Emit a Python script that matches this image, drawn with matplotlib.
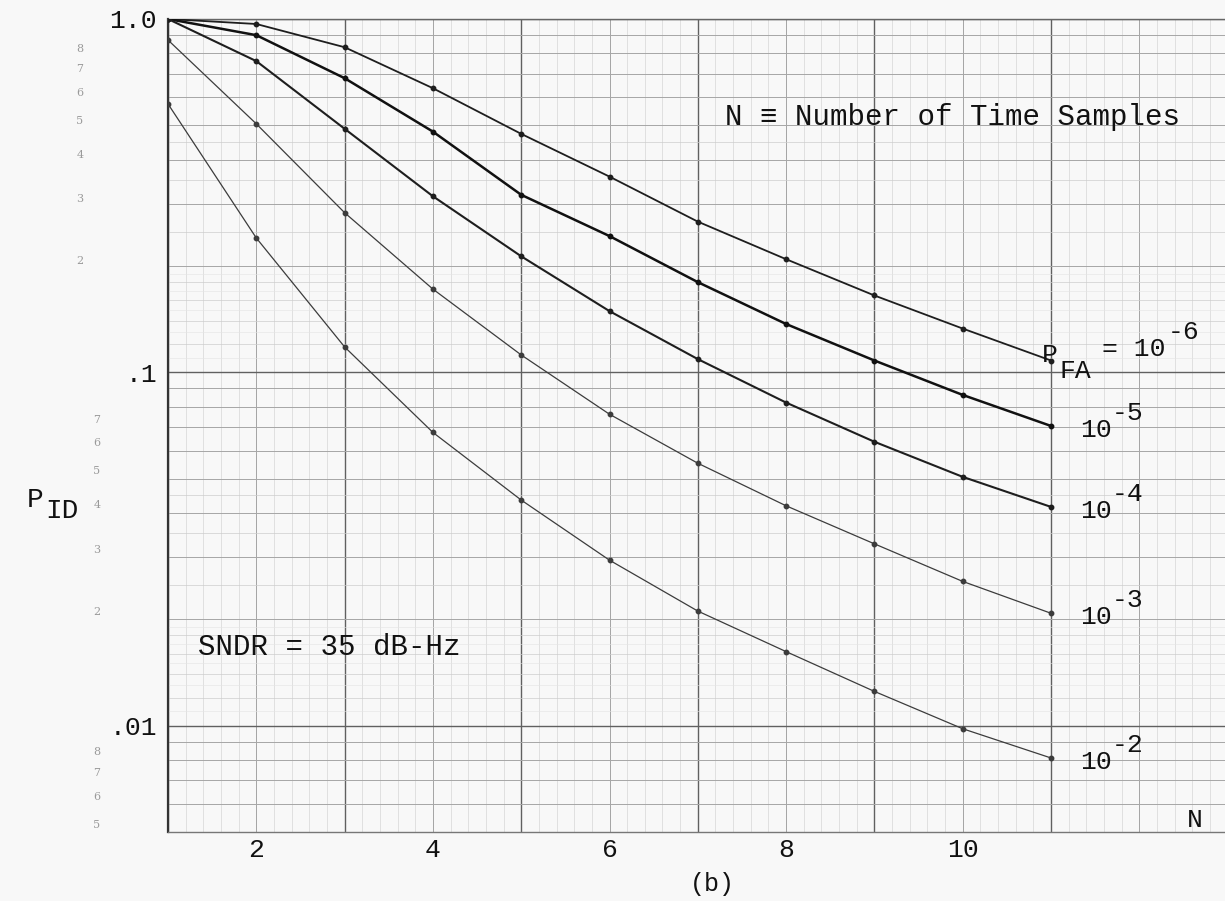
import matplotlib
matplotlib.use("Agg")
import matplotlib.pyplot as plt
from matplotlib.transforms import blended_transform_factory

# ---------------- data ----------------
N = [1, 2, 3, 4, 5, 6, 7, 8, 9, 10, 11]
pfa_exponents = ["-6", "-5", "-4", "-3", "-2"]
pid_pfa_1e6 = [1.0, 0.968, 0.832, 0.637, 0.473, 0.358, 0.267, 0.209, 0.165, 0.133, 0.108]
pid_pfa_1e5 = [1.0, 0.90, 0.680, 0.480, 0.318, 0.243, 0.180, 0.137, 0.108, 0.0863, 0.0705]
pid_pfa_1e4 = [1.0, 0.76, 0.489, 0.315, 0.213, 0.149, 0.109, 0.0821, 0.0636, 0.0506, 0.0416]
pid_pfa_1e3 = [0.872, 0.505, 0.283, 0.172, 0.112, 0.0761, 0.0553, 0.0419, 0.0327, 0.0256, 0.0208]
pid_pfa_1e2 = [0.575, 0.24, 0.118, 0.0676, 0.0435, 0.0294, 0.0211, 0.0162, 0.0125, 0.0098, 0.0081]
series = [pid_pfa_1e6, pid_pfa_1e5, pid_pfa_1e4, pid_pfa_1e3, pid_pfa_1e2]

x_tick_vals = [2, 4, 6, 8, 10]
x_tick_labels = ["2", "4", "6", "8", "10"]
y_tick_vals = [1.0, 0.1, 0.01]
y_tick_labels = ["1.0", ".1", ".01"]
small_vals_1 = [0.8, 0.7, 0.6, 0.5, 0.4, 0.3, 0.2]
small_labels_1 = ["8", "7", "6", "5", "4", "3", "2"]
small_vals_2 = [0.07, 0.06, 0.05, 0.04, 0.03, 0.02, 0.008, 0.007, 0.006, 0.005]
small_labels_2 = ["7", "6", "5", "4", "3", "2", "8", "7", "6", "5"]

# ---------------- style ----------------
FONT = ["Liberation Mono", "DejaVu Sans Mono", "DejaVu Sans"]
plt.rcParams["font.family"] = FONT
W, H = 1225, 901
FS = 19
BG = "#f8f8f8"
INK = "#111111"

fig = plt.figure(figsize=(W / 100, H / 100), dpi=100, facecolor=BG)
ax = fig.add_axes([168 / W, 1 - 832 / H, 1 - 168 / W, (832 - 19) / H])
ax.set_facecolor(BG)
ax.set_yscale("log")
ax.set_xlim(1, 1 + (W - 168) / 88.3)
ax.set_ylim(0.005, 1.0)

# graph-paper grid
x_end = 13
k = 0
while 1 + 0.2 * k <= x_end:
    xv = 1 + 0.2 * k
    if k % 5 == 0:
        iv = int(round(xv))
        if iv % 2 == 1:
            ax.axvline(xv, color="#606060", lw=1.0, zorder=1)
        else:
            ax.axvline(xv, color="#a4a4a4", lw=0.7, zorder=1)
    else:
        ax.axvline(xv, color="#d6d6d6", lw=0.5, zorder=1)
    k += 1

for dec in [0.001, 0.01, 0.1]:
    for m in [2, 3, 4, 5, 6, 7, 8, 9]:
        ax.axhline(m * dec, color="#a6a6a6", lw=0.7, zorder=1)
    for m in [1.2, 1.4, 1.6, 1.8, 2.5, 3.5, 4.5]:
        ax.axhline(m * dec, color="#cdcdcd", lw=0.5, zorder=1)
    for m in [1.1, 1.3, 1.5, 1.7, 1.9]:
        ax.axhline(m * dec, color="#e4e4e4", lw=0.4, zorder=1)
    ax.axhline(dec * 10, color="#606060", lw=1.0, zorder=1)

ax.spines["right"].set_visible(False)
ax.spines["left"].set_color("#333333")
ax.spines["left"].set_linewidth(1.6)
ax.spines["bottom"].set_color("#777777")
ax.spines["bottom"].set_linewidth(1.0)
ax.spines["top"].set_color("#666666")
ax.spines["top"].set_linewidth(1.0)

# curves
lws = [1.3, 1.8, 1.5, 0.9, 0.9]
cols = ["#1e1e1e", "#111111", "#1e1e1e", "#3c3c3c", "#3c3c3c"]
for vals, lw, c in zip(series, lws, cols):
    ax.plot(N, vals, color=c, lw=lw, marker="o", ms=3.2, mfc=c, mec=c, zorder=3)

# ticks
ax.set_xticks(x_tick_vals)
ax.set_xticklabels(x_tick_labels, fontsize=FS, color=INK)
ax.set_yticks(y_tick_vals)
ax.set_yticklabels(y_tick_labels, fontsize=FS, color=INK)
ax.minorticks_off()
ax.tick_params(axis="x", length=0, pad=4)
ax.tick_params(axis="y", length=0, pad=8)

# small graph-paper labels
tr = blended_transform_factory(fig.transFigure, ax.transData)
for v, lab in zip(small_vals_1, small_labels_1):
    ax.text(80 / W, v * 1.03, lab, transform=tr, fontsize=8, color="#9a9a9a",
            ha="center", va="center", family="DejaVu Serif")
for v, lab in zip(small_vals_2, small_labels_2):
    ax.text(97 / W, v * 1.05, lab, transform=tr, fontsize=8, color="#9a9a9a",
            ha="center", va="center", family="DejaVu Serif")

# axis label P_ID
fig.text(27 / W, 1 - 507 / H, "P", fontsize=20, ha="left", va="baseline", color=INK)
fig.text(45 / W, 1 - 518 / H, "ID", fontsize=20, ha="left", va="baseline", color=INK)

# annotations
fig.text(725 / W, 1 - 125 / H, "N \u2261 Number of Time Samples", fontsize=21,
         ha="left", va="baseline", color=INK)
fig.text(198 / W, 1 - 655 / H, "SNDR = 35 dB-Hz", fontsize=21,
         ha="left", va="baseline", color=INK)
fig.text(1187 / W, 1 - 827 / H, "N", fontsize=FS, ha="left", va="baseline", color=INK)
fig.text(712 / W, 1 - 891 / H, "(b)", fontsize=18, ha="center", va="baseline", color=INK)

# PFA labels anchored at curve end points
last_x = N[-1]
top_end = series[0][-1]
ax.annotate("P", xy=(last_x, top_end), xytext=(-9, -1), textcoords="offset pixels",
            fontsize=FS, ha="left", va="baseline", color=INK)
ax.annotate("FA", xy=(last_x, top_end), xytext=(9, -17), textcoords="offset pixels",
            fontsize=FS, ha="left", va="baseline", color=INK)
ax.annotate("= 10", xy=(last_x, top_end), xytext=(51, 5), textcoords="offset pixels",
            fontsize=FS, ha="left", va="baseline", color=INK)
ax.annotate(pfa_exponents[0], xy=(last_x, top_end), xytext=(117, 22), textcoords="offset pixels",
            fontsize=FS, ha="left", va="baseline", color=INK)
for vals, ex in zip(series[1:], pfa_exponents[1:]):
    ax.annotate("10", xy=(last_x, vals[-1]), xytext=(29, -11), textcoords="offset pixels",
                fontsize=FS, ha="left", va="baseline", color=INK)
    ax.annotate(ex, xy=(last_x, vals[-1]), xytext=(61, 6), textcoords="offset pixels",
                fontsize=FS, ha="left", va="baseline", color=INK)

fig.savefig("out.png", dpi=100, facecolor=fig.get_facecolor())
